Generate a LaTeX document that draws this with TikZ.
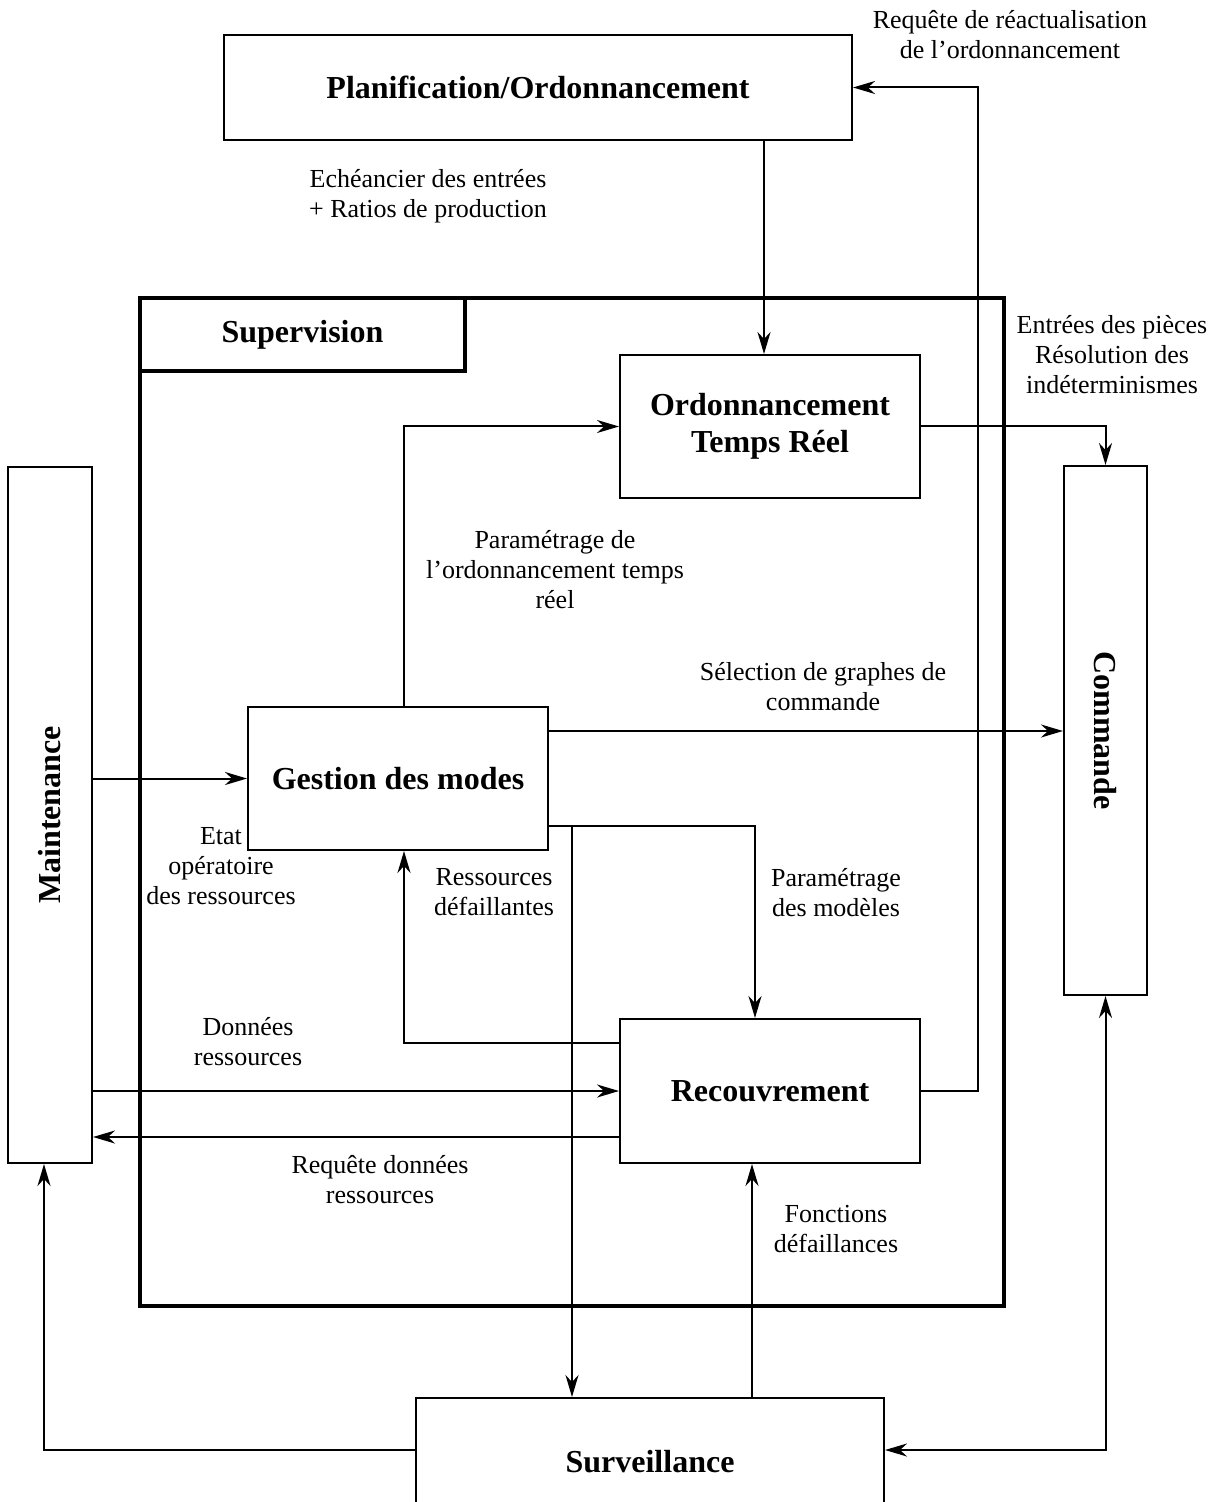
\documentclass[tikz,border=0pt]{standalone}
\usepackage{fontspec}
\setmainfont{Liberation Serif}
\usetikzlibrary{arrows.meta}
\tikzset{every picture/.style={line width=1pt}}
\tikzset{
  box/.style={draw, line width=1pt, inner sep=0pt, align=center, font=\bfseries\fontsize{16}{18.5}\selectfont},
  lbl/.style={inner sep=0pt, align=center, font=\fontsize{13}{15}\selectfont},
  arr/.style={-{Stealth[length=11pt,width=6.5pt,inset=3.5pt]}},
  arrboth/.style={{Stealth[length=11pt,width=6.5pt,inset=3.5pt]}-{Stealth[length=11pt,width=6.5pt,inset=3.5pt]}}
}

\begin{document}
\begin{tikzpicture}[x=0.5pt,y=-0.5pt]
\useasboundingbox (0,0) rectangle (1219,1502);

%Boxes
\node[box, minimum width=314pt, minimum height=52.5pt] (plan) at (538,87.5) {Planification/Ordonnancement};
\node[draw, line width=2pt, minimum width=432pt, minimum height=504pt] (superv) at (572,802) {};
\node[box, line width=2pt, anchor=north west, minimum width=162.5pt, minimum height=36.5pt] (supervlbl) at (superv.north west) {Supervision};
\node[box, minimum width=150pt, minimum height=71.5pt] (ordo) at (770,426.5) {Ordonnancement\\Temps Réel};
\node[box, rotate=-90, minimum width=264.5pt, minimum height=41.5pt] (comm) at (1105.5,730.5) {Commande};
\node[box, rotate=90, minimum width=348pt, minimum height=42pt] (maint) at (50,815) {Maintenance};
\node[box, minimum width=150pt, minimum height=71.5pt] (gest) at (398,778.5) {Gestion des modes};
\node[box, minimum width=150pt, minimum height=72pt] (recouv) at (770,1091) {Recouvrement};
\node[box, minimum width=234pt, minimum height=64pt] (surv) at (650,1462) {Surveillance};

%Helper coordinates
\coordinate (reqx) at (978,0);
\coordinate (g1) at ([yshift=23.75pt]gest.east);
\coordinate (g2) at ([yshift=-23.75pt]gest.east);
\coordinate (r1) at ([yshift=24pt]recouv.west);
\coordinate (r2) at ([yshift=-23pt]recouv.west);
\coordinate (s1) at ([xshift=-39pt]surv.north);
\coordinate (s2) at ([xshift=51pt]surv.north);
\coordinate (s3) at ([yshift=6pt]surv.west);
\coordinate (s4) at ([yshift=6pt]surv.east);

%Connectors
\draw[arr] (recouv.east) -- (recouv.east -| reqx) |- (plan.east);
\draw[arr] ([xshift=-3pt]ordo.north |- plan.south) -- ([xshift=-3pt]ordo.north);
\draw[arr] (ordo.east) -| (comm.west);
\draw[arr] ([xshift=3pt]gest.north) |- (ordo.west);
\draw[arr] (g1) -- (g1 -| comm.south);
\draw[arr] (maint.south |- gest.west) -- (gest.west);
\draw[arr] (g2) -| ([xshift=-7.5pt]recouv.north);
\draw[arr] (g2 -| s1) -- (s1);
\draw[arr] (r1) -| ([xshift=3pt]gest.south);
\draw[arr] (maint.south |- recouv.west) -- (recouv.west);
\draw[arr] (r2) -- (r2 -| maint.south);
\draw[arr] (s2) -- (s2 |- recouv.south);
\draw[arr] (s3) -| ([xshift=-3pt]maint.west);
\draw[arrboth] (comm.east) |- (s4);

% Text Nodes
\node[lbl] (reqreact) at (1010,35) {Requête de réactualisation\\de l’ordonnancement};
\node[lbl] (echean) at (428,196) {Echéancier des entrées\\+ Ratios de production};
\node[lbl] (entrees) at (1112,355) {Entrées des pièces\\Résolution des\\indéterminismes};
\node[lbl] (paramordo) at (555,570) {Paramétrage de\\l’ordonnancement temps\\réel};
\node[lbl] (selgraph) at (823,687) {Sélection de graphes de\\commande};
\node[lbl] (etatop) at (221,866) {Etat\\opératoire\\des ressources};
\node[lbl] (parammod) at (836,893) {Paramétrage\\des modèles};
\node[lbl] (ressdef) at (494,892) {Ressources\\défaillantes};
\node[lbl] (donnees) at (248,1042) {Données\\ressources};
\node[lbl] (reqdonnees) at (380,1180) {Requête données\\ressources};
\node[lbl] (fonctdef) at (836,1229) {Fonctions\\défaillances};

\end{tikzpicture}
\end{document}
